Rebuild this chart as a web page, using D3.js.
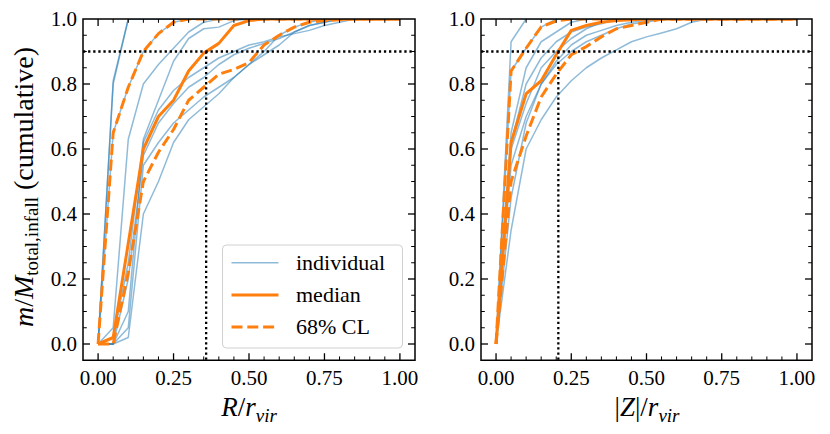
<!DOCTYPE html>
<html><head><meta charset="utf-8">
<script src="https://cdn.jsdelivr.net/npm/d3@7"></script>
<style>body{margin:0;background:#fff}svg{display:block}</style>
</head><body>
<svg id="c" width="830" height="434"></svg>
<script>
// ---- data (cumulative mass fraction on a grid of radius / height) ----
const gridX = d3.range(21).map(i => i * 0.05);
const pad = a => a.concat(Array(21 - a.length).fill(1));

const leftIndividual = [
  [0, 0.81, 1],
  [0, 0.80, 1],
  [0, 0.65, 0.79, 0.90, 0.955, 0.99, 1],
  [0, 0.05, 0.63, 0.80, 0.86, 0.91, 0.96, 0.99, 1],
  [0, 0.02, 0.25, 0.63, 0.75, 0.87, 0.94, 0.97, 0.975, 0.995, 1],
  [0, 0, 0.20, 0.58, 0.68, 0.74, 0.79, 0.82, 0.86, 0.89, 0.91, 0.925, 0.94, 0.96, 0.98, 0.99, 1],
  [0, 0, 0.05, 0.55, 0.62, 0.68, 0.72, 0.76, 0.79, 0.82, 0.86, 0.90, 0.95, 0.975, 0.99, 1],
  [0, 0, 0.02, 0.40, 0.50, 0.62, 0.69, 0.73, 0.77, 0.82, 0.86, 0.89, 0.92, 0.96, 0.98, 0.99, 1],
  [0, 0, 0.10, 0.62, 0.72, 0.78, 0.82, 0.85, 0.88, 0.90, 0.92, 0.93, 0.945, 0.955, 0.965, 0.98, 0.99, 1]
];
const leftMedian = [0, 0.02, 0.31, 0.60, 0.70, 0.75, 0.84, 0.895, 0.925, 0.98, 0.995, 1];
const leftUpper = [0, 0.65, 0.79, 0.90, 0.955, 0.99, 1];
const leftLower = [0, 0, 0.22, 0.50, 0.59, 0.66, 0.75, 0.79, 0.83, 0.845, 0.866, 0.92, 0.95, 0.975, 0.99, 0.995, 0.998, 1];

const rightIndividual = [
  [0, 0.93, 1],
  [0, 0.84, 0.91, 0.975, 1],
  [0, 0.65, 0.85, 0.93, 0.96, 0.99, 1],
  [0, 0.60, 0.74, 0.85, 0.90, 0.94, 0.97, 0.99, 1],
  [0, 0.55, 0.70, 0.80, 0.86, 0.90, 0.93, 0.95, 0.97, 0.985, 0.99, 1],
  [0, 0.35, 0.60, 0.69, 0.76, 0.81, 0.85, 0.88, 0.905, 0.93, 0.945, 0.957, 0.97, 0.99, 1],
  [0, 0.45, 0.68, 0.80, 0.87, 0.92, 0.95, 0.965, 0.98, 0.99, 0.995, 0.998, 1],
  [0, 0.62, 0.80, 0.88, 0.93, 0.96, 0.975, 0.985, 1]
];
const rightMedian = [0, 0.62, 0.77, 0.81, 0.89, 0.965, 0.98, 0.99, 0.995, 0.998, 1];
const rightUpper = [0, 0.84, 0.91, 0.976, 0.994, 1];
const rightLower = [0, 0.50, 0.64, 0.76, 0.83, 0.89, 0.915, 0.945, 0.97, 0.98, 0.99, 1];

const threshold = 0.9;
const leftCross = 0.358;
const rightCross = 0.207;

const xTicks = [0, 0.25, 0.5, 0.75, 1.0];
const xTickLabels = ["0.00", "0.25", "0.50", "0.75", "1.00"];
const yTicks = [0, 0.2, 0.4, 0.6, 0.8, 1.0];
const yTickLabels = ["0.0", "0.2", "0.4", "0.6", "0.8", "1.0"];
const legendLabels = ["individual", "median", "68% CL"];

// ---- drawing ----
const svg = d3.select("#c");
const FONT = "'Liberation Serif', 'DejaVu Serif', serif";
const BLUE = "#1f77b4", ORANGE = "#ff7f0e";
const yScale = d3.scaleLinear().domain([-0.05, 1.0]).range([360.25, 19]);

function panel(x0, x1, indiv, med, up, lo, cross, clipId) {
  const x = d3.scaleLinear().domain([-0.05, 1.05]).range([x0, x1]);
  const g = svg.append("g");
  g.append("clipPath").attr("id", clipId).append("rect")
    .attr("x", x0).attr("y", 19).attr("width", x1 - x0).attr("height", 360.25 - 19);
  const line = d3.line().x((d, i) => x(gridX[i])).y(d => yScale(d));
  const pg = g.append("g").attr("clip-path", `url(#${clipId})`);
  indiv.forEach(a => pg.append("path").attr("d", line(pad(a))).attr("fill", "none")
    .attr("stroke", BLUE).attr("stroke-opacity", 0.5).attr("stroke-width", 1.5)
    .attr("stroke-linejoin", "round"));
  pg.append("path").attr("d", line(pad(med))).attr("fill", "none")
    .attr("stroke", ORANGE).attr("stroke-width", 3).attr("stroke-linejoin", "round");
  [up, lo].forEach(a => pg.append("path").attr("d", line(pad(a))).attr("fill", "none")
    .attr("stroke", ORANGE).attr("stroke-width", 3).attr("stroke-dasharray", "11,4.8")
    .attr("stroke-linejoin", "round"));
  // reference lines
  pg.append("line").attr("x1", x0).attr("x2", x1).attr("y1", yScale(threshold)).attr("y2", yScale(threshold))
    .attr("stroke", "#000").attr("stroke-width", 2.3).attr("stroke-dasharray", "2.3,2.8");
  pg.append("line").attr("x1", x(cross)).attr("x2", x(cross)).attr("y1", yScale(threshold)).attr("y2", 360.25)
    .attr("stroke", "#000").attr("stroke-width", 2.3).attr("stroke-dasharray", "2.3,2.8");

  // ticks (inward, all sides)
  const tk = g.append("g").attr("stroke", "#000");
  d3.range(-1, 22).map(i => i * 0.05).filter(v => v >= -0.05 && v <= 1.05).forEach(v => {
    const major = Math.abs(v * 4 - Math.round(v * 4)) < 1e-6;
    const L = major ? 7 : 3.8;
    const px = x(v);
    if (px <= x0 + 0.5 || px >= x1 - 0.5) return;
    tk.append("line").attr("x1", px).attr("x2", px).attr("y1", 360.25).attr("y2", 360.25 - L).attr("stroke-width", major ? 1.3 : 1);
    tk.append("line").attr("x1", px).attr("x2", px).attr("y1", 19).attr("y2", 19 + L).attr("stroke-width", major ? 1.3 : 1);
  });
  d3.range(0, 21).map(i => -0.05 + i * 0.05).forEach(v => {
    const vv = Math.round(v * 100) / 100;
    const major = Math.abs(vv * 5 - Math.round(vv * 5)) < 1e-6;
    const L = major ? 7 : 3.8;
    const py = yScale(vv);
    if (py >= 359.5 || py <= 19.5) return;
    tk.append("line").attr("x1", x0).attr("x2", x0 + L).attr("y1", py).attr("y2", py).attr("stroke-width", major ? 1.3 : 1);
    tk.append("line").attr("x1", x1).attr("x2", x1 - L).attr("y1", py).attr("y2", py).attr("stroke-width", major ? 1.3 : 1);
  });
  // frame
  g.append("rect").attr("x", x0).attr("y", 19).attr("width", x1 - x0).attr("height", 360.25 - 19)
    .attr("fill", "none").attr("stroke", "#000").attr("stroke-width", 1.5);
  // tick labels
  xTicks.forEach((v, i) => g.append("text").attr("x", x(v)).attr("y", 385)
    .attr("text-anchor", "middle").attr("font-family", FONT).attr("font-size", 21).text(xTickLabels[i]));
  yTicks.forEach((v, i) => g.append("text").attr("x", x0 - 6).attr("y", yScale(v) + 7)
    .attr("text-anchor", "end").attr("font-family", FONT).attr("font-size", 21).text(yTickLabels[i]));
  return {x, g};
}

const L = panel(83, 415, leftIndividual, leftMedian, leftUpper, leftLower, leftCross, "cl");
const R = panel(481, 812, rightIndividual, rightMedian, rightUpper, rightLower, rightCross, "cr");

// x labels
function xlabel(cx, parts) {
  const t = svg.append("text").attr("x", cx).attr("y", 416).attr("text-anchor", "middle")
    .attr("font-family", FONT).attr("font-size", 27);
  parts.forEach(p => {
    const s = t.append("tspan").text(p[0]);
    if (p[1]) s.attr("font-style", "italic");
    if (p[2]) s.attr("font-size", 19).attr("dy", 6);
  });
}
xlabel(249, [["R", 1], ["/", 0], ["r", 1], ["vir", 1, 1]]);
xlabel(647, [["|", 0], ["Z", 1], ["|/", 0], ["r", 1], ["vir", 1, 1]]);

// y label
const yl = svg.append("text").attr("transform", "translate(33,187) rotate(-90)")
  .attr("text-anchor", "middle").attr("font-family", FONT).attr("font-size", 28);
yl.append("tspan").attr("font-style", "italic").text("m");
yl.append("tspan").text("/");
yl.append("tspan").attr("font-style", "italic").text("M");
yl.append("tspan").attr("font-size", 19).attr("dy", 5).text("total,infall");
yl.append("tspan").attr("dy", -5).text(" (cumulative)");

// legend
const lg = svg.append("g");
lg.append("rect").attr("x", 222.5).attr("y", 245).attr("width", 180).attr("height", 103).attr("rx", 4)
  .attr("fill", "#fff").attr("fill-opacity", 0.8).attr("stroke", "#d0d0d0").attr("stroke-width", 1);
const ly = [262.7, 295, 327];
const lstyle = [
  {c: BLUE, o: 0.5, w: 1.5, d: null},
  {c: ORANGE, o: 1, w: 3, d: null},
  {c: ORANGE, o: 1, w: 3, d: "11,4.8"}
];
legendLabels.forEach((t, i) => {
  const s = lstyle[i];
  const ln = lg.append("line").attr("x1", 231.5).attr("x2", 278.5).attr("y1", ly[i]).attr("y2", ly[i])
    .attr("stroke", s.c).attr("stroke-opacity", s.o).attr("stroke-width", s.w);
  if (s.d) ln.attr("stroke-dasharray", s.d);
  lg.append("text").attr("x", 296).attr("y", ly[i] + 7).attr("font-family", FONT).attr("font-size", 22).text(t);
});
</script>
</body></html>
